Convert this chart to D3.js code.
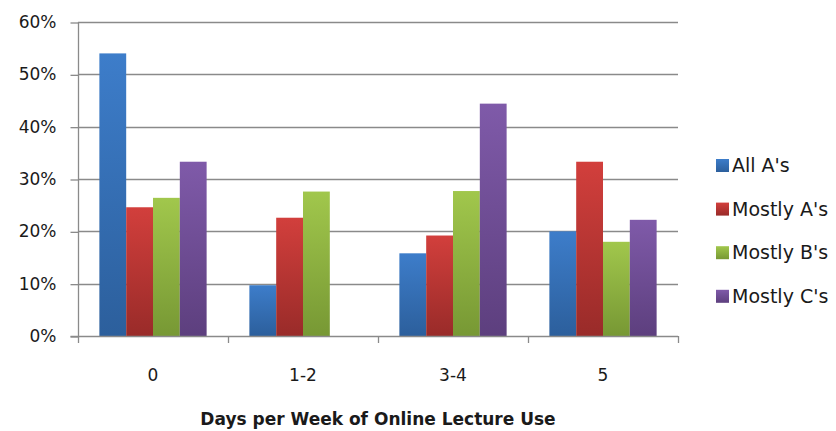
<!DOCTYPE html>
<html>
<head>
<meta charset="utf-8">
<script src="https://cdn.jsdelivr.net/npm/d3@7"></script>
<style>
  html, body { margin: 0; padding: 0; background: #fff; }
  svg { display: block; }
  text { font-family: "DejaVu Sans", sans-serif; fill: #1a1a1a; }
</style>
</head>
<body>
<svg id="chart" width="836" height="431"></svg>
<script>
// Share of students in each grade group, by days per week of online lecture use
const categories = ["0", "1-2", "3-4", "5"];
const seriesNames = ["All A's", "Mostly A's", "Mostly B's", "Mostly C's"];
const allAs     = [0.540, 0.097, 0.158, 0.200];
const mostlyAs  = [0.246, 0.226, 0.192, 0.333];
const mostlyBs  = [0.264, 0.276, 0.277, 0.180];
const mostlyCs  = [0.333, 0.000, 0.444, 0.222];
const yTicks = [0, 0.1, 0.2, 0.3, 0.4, 0.5, 0.6];
const xTitle = "Days per Week of Online Lecture Use";

const seriesValues = [allAs, mostlyAs, mostlyBs, mostlyCs];
// top / bottom shades of each series fill
const shades = [
  ["#3d7dca", "#2c5f9c"],
  ["#d23f3c", "#992b29"],
  ["#a1c74c", "#779834"],
  ["#7f5aa9", "#5d3f7e"]
];

const svg = d3.select("#chart");
const margin = { left: 78, right: 158, top: 22, bottom: 95 };
const W = 836, H = 431;
const x0 = margin.left, x1 = W - margin.right;
const yTop = margin.top, yBot = H - margin.bottom;

const x = d3.scaleBand().domain(categories).range([x0, x1])
  .paddingInner(0.285).paddingOuter(0.1425);
const xs = d3.scaleBand().domain(seriesNames).range([0, x.bandwidth()]);
const y = d3.scaleLinear().domain([0, 0.6]).range([yBot, yTop]);

const defs = svg.append("defs");
shades.forEach((s, i) => {
  const g = defs.append("linearGradient").attr("id", "grad" + i)
    .attr("x1", 0).attr("y1", 0).attr("x2", 0).attr("y2", 1);
  g.append("stop").attr("offset", "0%").attr("stop-color", s[0]);
  g.append("stop").attr("offset", "100%").attr("stop-color", s[1]);
});

const gridColor = "#8a8a8a";

// horizontal gridlines
svg.append("g").selectAll("line").data(yTicks.filter(d => d > 0)).join("line")
  .attr("x1", x0).attr("x2", x1)
  .attr("y1", d => Math.round(y(d)) + 0.5).attr("y2", d => Math.round(y(d)) + 0.5)
  .attr("stroke", gridColor).attr("stroke-width", 1.3);

// y axis
const yAxis = d3.axisLeft(y).tickValues(yTicks).tickFormat(d3.format(".0%"))
  .tickSize(8).tickPadding(14);
const gy = svg.append("g").attr("transform", `translate(${x0 + 0.5},0)`).call(yAxis);
gy.select(".domain").attr("stroke", gridColor).attr("stroke-width", 1.3)
  .attr("d", `M-8,${yBot + 0.5}H0V${yTop}`);
gy.selectAll(".tick line").attr("stroke", gridColor).attr("stroke-width", 1.3)
  .attr("transform", "translate(0,0.5)");
gy.selectAll(".tick text").attr("font-size", 17).attr("fill", "#1a1a1a")
  .attr("font-family", "DejaVu Sans, sans-serif");

// bars
const groups = svg.append("g").selectAll("g").data(categories).join("g")
  .attr("transform", c => `translate(${x(c)},0)`);
groups.selectAll("rect")
  .data((c, ci) => seriesNames.map((s, si) => ({ s, si, v: seriesValues[si][ci] })))
  .join("rect")
  .filter(d => d.v > 0)
  .attr("x", d => xs(d.s))
  .attr("width", xs.bandwidth())
  .attr("y", d => y(d.v))
  .attr("height", d => yBot - y(d.v))
  .attr("fill", d => `url(#grad${d.si})`);

// x axis
const step = x.step();
const tickPos = d3.range(categories.length + 1).map(i => x0 + i * step);
svg.append("line").attr("x1", x0).attr("x2", x1)
  .attr("y1", yBot + 0.5).attr("y2", yBot + 0.5)
  .attr("stroke", gridColor).attr("stroke-width", 1.3);
svg.append("g").selectAll("line").data(tickPos).join("line")
  .attr("x1", d => Math.round(d) + 0.5).attr("x2", d => Math.round(d) + 0.5)
  .attr("y1", yBot).attr("y2", yBot + 7)
  .attr("stroke", gridColor).attr("stroke-width", 1.3);
svg.append("g").selectAll("text").data(categories).join("text")
  .attr("x", c => x(c) + x.bandwidth() / 2)
  .attr("y", yBot + 45)
  .attr("text-anchor", "middle")
  .attr("font-size", 17)
  .text(c => c);

svg.append("text")
  .attr("x", 378).attr("y", 425)
  .attr("text-anchor", "middle")
  .attr("font-size", 17).attr("font-weight", "bold")
  .text(xTitle);

// legend
const legend = svg.append("g").attr("transform", "translate(716,172)");
const li = legend.selectAll("g").data(seriesNames).join("g")
  .attr("transform", (d, i) => `translate(0,${i * 43.6})`);
li.append("rect").attr("y", -13).attr("width", 13).attr("height", 13)
  .attr("fill", (d, i) => `url(#grad${i})`);
li.append("text").attr("x", 16).attr("y", 0)
  .attr("font-size", 19).text(d => d);
</script>
</body>
</html>
